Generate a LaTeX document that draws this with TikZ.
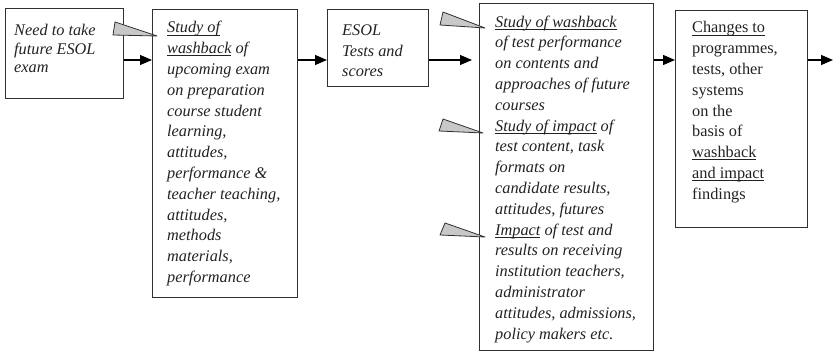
\documentclass[tikz,border=0pt]{standalone}
\usepackage{fontspec}
\setmainfont{Liberation Serif}
\usetikzlibrary{arrows.meta}
\newcommand\myul[1]{\leavevmode\setbox0\hbox{#1}\rlap{\rule[-2.4pt]{\wd0}{0.8pt}}\box0\relax}
\definecolor{ink}{HTML}{222222}
\definecolor{edge}{HTML}{303030}
\definecolor{wedge}{HTML}{C8C8C8}
\tikzset{
  boxsty/.style={draw=edge, line width=1pt, anchor=north west, inner sep=0pt},
  txt/.style={align=left, inner sep=0pt, anchor=base west, text=ink,
    font=\itshape\fontsize{16.3}{20.8}\selectfont},
  uptxt/.style={txt, font=\fontsize{16.3}{20.8}\selectfont},
  flow/.style={draw=black, line width=1.1pt, -{Triangle[length=12pt,width=10pt]}},
  callout/.style={fill=wedge, draw=edge, line width=0.8pt, line join=round}
}
\begin{document}
\begin{tikzpicture}[x=1pt,y=-1pt]
\useasboundingbox (0,0) rectangle (834,352);
% boxes
\node[boxsty, minimum width=118pt, minimum height=90pt] (b1) at (5,8) {};
\node[boxsty, minimum width=145pt, minimum height=288pt] (b2) at (152,9) {};
\node[boxsty, minimum width=101pt, minimum height=77pt] (b3) at (327,9) {};
\node[boxsty, minimum width=174pt, minimum height=347pt] (b4) at (479,3) {};
\node[boxsty, minimum width=132pt, minimum height=217pt] (b5) at (675,10) {};
% texts (anchored at the baseline of the last line)
\node[txt, font=\itshape\fontsize{16.3}{18.5}\selectfont] (t1) at (14,73) {Need to take\\future ESOL\\exam};
\node[txt] (t2) at (167,282.6) {\myul{Study of}\\\myul{washback} of\\upcoming exam\\on preparation\\course student\\learning,\\attitudes,\\performance \&\\teacher teaching,\\attitudes,\\methods\\materials,\\performance};
\node[txt] (t3) at (342,77) {ESOL\\Tests and\\scores};
\node[txt] (t4) at (495,339) {\myul{Study of washback}\\of test performance\\on contents and\\approaches of future\\courses\\\myul{Study of impact} of\\test content, task\\formats on\\candidate results,\\attitudes, futures\\\myul{Impact} of test and\\results on receiving\\institution teachers,\\administrator\\attitudes, admissions,\\policy makers etc.};
\node[uptxt] (t5) at (692,199.4) {\myul{Changes to}\\programmes,\\tests, other\\systems\\on the\\basis of\\\myul{washback}\\\myul{and impact}\\findings};
% connectors
\coordinate (out) at (833,60);
\coordinate (a3) at (472,60);
\draw[flow] (b1.east |- 0,60) -- (b2.west |- 0,60);
\draw[flow] (b2.east |- 0,60) -- (b3.west |- 0,60);
\draw[flow] (b3.east |- 0,60) -- (a3);
\draw[flow] (b4.east |- 0,60) -- (b5.west |- 0,60);
\draw[flow] (b5.east |- 0,60) -- (out);
% callout wedges
\draw[callout] (115,22) -- (157,36) -- (113,35) -- cycle;
\draw[callout] (443,12) -- (485,28) -- (440,25) -- cycle;
\draw[callout] (443,119) -- (483,133) -- (439,131) -- cycle;
\draw[callout] (445,223) -- (485,237) -- (440,235) -- cycle;
\end{tikzpicture}
\end{document}
